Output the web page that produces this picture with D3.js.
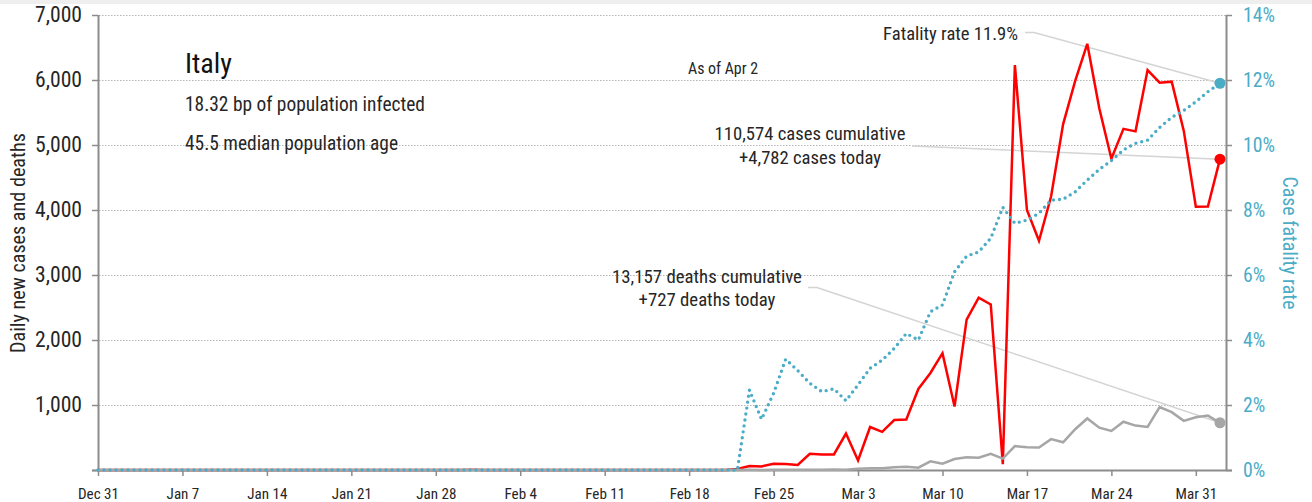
<!DOCTYPE html>
<html><head><meta charset="utf-8">
<script src="https://cdn.jsdelivr.net/npm/d3@7"></script>
<style>
html,body{margin:0;padding:0;background:#fff;}
svg{display:block;font-family:"Liberation Sans Narrow","Arial Narrow","Roboto Condensed","DejaVu Sans Condensed","Liberation Sans",sans-serif;}
</style></head>
<body>
<svg id="chart" width="1312" height="502"></svg>
<script>
// ---- data (Dec 31, 2019 .. Apr 2, 2020; one value per day) ----
const startDay = "2019-12-31";
const dailyCases = [
  0,0,0,0,0,0,0,0,0,0,0,0,0,0,0,0,0,0,0,0,0,0,0,0,0,0,0,0,0,0,0,   // Dec 31 - Jan 30
  2,0,0,0,0,0,0,1,0,0,0,0,0,0,0,0,0,0,0,0,0,0,                      // Jan 31 - Feb 21
  17,62,55,97,93,78,250,238,                                        // Feb 22 - Feb 29
  240,561,146,662,587,769,778,1247,1492,1797,977,2313,2651,2547,    // Mar 1 - Mar 14
  90,6230,4000,3526,4207,5322,5986,6557,5560,4789,5249,5210,        // Mar 15 - Mar 26
  6153,5959,5974,5217,4050,4053,4782                                // Mar 27 - Apr 2
];
const dailyDeaths = [
  0,0,0,0,0,0,0,0,0,0,0,0,0,0,0,0,0,0,0,0,0,0,0,0,0,0,0,0,0,0,0,
  0,0,0,0,0,0,0,0,0,0,0,0,0,0,0,0,0,0,0,0,0,0,
  0,2,1,4,3,2,5,4,
  8,5,18,27,28,41,49,36,133,97,168,196,189,250,
  175,368,349,345,475,427,627,793,651,601,743,683,
  662,969,889,756,812,837,727
];
const fatalityRate = [ // percent, cumulative deaths / cumulative cases
  0,0,0,0,0,0,0,0,0,0,0,0,0,0,0,0,0,0,0,0,0,0,0,0,0,0,0,0,0,0,0,
  0,0,0,0,0,0,0,0,0,0,0,0,0,0,0,0,0,0,0,0,0,0,
  0,2.46,1.56,2.36,3.41,3.06,2.67,2.41,
  2.50,2.13,2.62,3.13,3.38,3.74,4.20,4.00,4.87,5.08,6.10,6.58,6.71,7.13,
  8.08,7.59,7.69,7.90,8.30,8.33,8.56,8.92,9.25,9.52,9.85,10.05,
  10.15,10.54,10.85,11.06,11.33,11.64,11.90
];
const xTickLabels = ["Dec 31","Jan 7","Jan 14","Jan 21","Jan 28","Feb 4","Feb 11","Feb 18","Feb 25","Mar 3","Mar 10","Mar 17","Mar 24","Mar 31"];
const leftTicks = [0,1000,2000,3000,4000,5000,6000,7000];
const rightTicks = [0,2,4,6,8,10,12,14];
const countryName = "Italy";
const infoLines = ["18.32 bp of population infected","45.5 median population age"];
const asOfLabel = "As of Apr 2";
const fatalityLabel = "Fatality rate 11.9%";
const casesLabels = ["110,574 cases cumulative","+4,782 cases today"];
const deathsLabels = ["13,157 deaths cumulative","+727 deaths today"];

// ---- setup ----
const parse = d3.timeParse("%Y-%m-%d");
const t0 = parse(startDay);
const dates = dailyCases.map((_, i) => d3.timeDay.offset(t0, i));
const tickDates = xTickLabels.map((_, i) => d3.timeDay.offset(t0, i * 7));

const svg = d3.select("#chart");
const W = 1312, H = 502;
const pL = 98, pR = 1226, pT = 15, pB = 470;

const x = d3.scaleTime()
  .domain([t0, d3.timeHour.offset(dates[dates.length - 1], 12)])
  .range([pL, pR]);
const y = d3.scaleLinear().domain([0, 7000]).range([pB, pT]);
const yr = d3.scaleLinear().domain([0, 14]).range([pB, pT]);

const BLUE = "#4bacc6", RED = "#ff0000", GRAY = "#a6a6a6", AXIS = "#8c8c8c", LEAD = "#d4d4d4", TXT = "#262626";

function fit(sel, width) {
  sel.style("font-size", "100px");
  let w = 0;
  sel.each(function(){ w = Math.max(w, this.getComputedTextLength()); });
  const fs = 100 * width / w;
  sel.style("font-size", fs + "px");
  return fs;
}

svg.append("rect").attr("x",0).attr("y",0).attr("width",W).attr("height",4).attr("fill","#efefef");

// gridlines
svg.append("g").selectAll("line").data(leftTicks.filter(d => d > 0)).join("line")
  .attr("x1", pL + 1).attr("x2", pR)
  .attr("y1", d => y(d) + 0.5).attr("y2", d => y(d) + 0.5)
  .attr("stroke", "#b4b4b4").attr("stroke-width", 1).attr("stroke-dasharray", "1.5,1.5");

// axes
const axL = svg.append("g").attr("transform", `translate(${pL},0)`)
  .call(d3.axisLeft(y).tickValues(leftTicks).tickSize(6).tickPadding(10)
    .tickFormat(d => d === 0 ? "" : d3.format(",")(d)));
const axR = svg.append("g").attr("transform", `translate(${pR},0)`)
  .call(d3.axisRight(yr).tickValues(rightTicks).tickSize(6).tickPadding(11).tickFormat(d => d + "%"));
const axB = svg.append("g").attr("transform", `translate(0,${pB})`)
  .call(d3.axisBottom(x).tickValues(tickDates).tickSize(6).tickPadding(12).tickFormat((d, i) => xTickLabels[i]));
[axL, axR, axB].forEach(g => {
  g.attr("font-family", null).attr("font-size", null);
  g.select(".domain").attr("stroke", AXIS).attr("stroke-width", 2);
  g.selectAll(".tick line").attr("stroke", AXIS).attr("stroke-width", 1.5);
});
axB.select(".domain").attr("d", `M${pL - 6},0.5H${pR + 6}`);
axL.select(".domain").attr("d", `M0.5,${pT}V${pB}`);
axR.select(".domain").attr("d", `M0.5,${pT}V${pB}`);
axL.selectAll("text").attr("fill", TXT);
axB.selectAll("text").attr("fill", TXT);
axR.selectAll("text").attr("fill", BLUE);
const fsL = fit(axL.selectAll("text").filter(d => d === 7000), 47);
axL.selectAll("text").style("font-size", fsL + "px");
const fsR = fit(axR.selectAll("text").filter(d => d === 14), 32);
axR.selectAll("text").style("font-size", fsR + "px");
const fsB = fit(axB.selectAll("text").filter((d, i) => i === 0), 41);
axB.selectAll("text").style("font-size", fsB + "px");

// axis titles
const yTitle = svg.append("text").attr("text-anchor", "middle")
  .attr("transform", "translate(25,243) rotate(-90)").attr("fill", TXT)
  .text("Daily new cases and deaths");
fit(yTitle, 220);
const yrTitle = svg.append("text").attr("text-anchor", "middle")
  .attr("transform", "translate(1283,243) rotate(90)").attr("fill", BLUE)
  .text("Case fatality rate");
fit(yrTitle, 133);

// leader lines
const last = dates.length - 1;
const xe = x(dates[last]);
const leaders = svg.append("g").attr("fill", "none").attr("stroke", LEAD).attr("stroke-width", 1.5);
leaders.append("path").attr("d", `M1025,32.5H1034L${xe},${yr(fatalityRate[last])}`);
leaders.append("path").attr("d", `M912,146L${xe},${y(dailyCases[last])}`);
leaders.append("path").attr("d", `M808,287.5H817L${xe},${y(dailyDeaths[last])}`);

// series
const lineL = vals => d3.line().x((d, i) => x(dates[i])).y(d => y(d))(vals);
svg.append("path").attr("d", lineL(dailyCases)).attr("fill", "none")
  .attr("stroke", RED).attr("stroke-width", 2.5).attr("stroke-linejoin", "miter");
svg.append("path").attr("d", lineL(dailyDeaths)).attr("fill", "none")
  .attr("stroke", GRAY).attr("stroke-width", 2.5);
svg.append("path").attr("d", d3.line().x((d, i) => x(dates[i])).y(d => yr(d))(fatalityRate))
  .attr("fill", "none").attr("stroke", BLUE).attr("stroke-width", 3.4)
  .attr("stroke-linecap", "round").attr("stroke-dasharray", "0,6");

// end markers
svg.append("circle").attr("cx", xe).attr("cy", yr(fatalityRate[last])).attr("r", 5.5).attr("fill", BLUE);
svg.append("circle").attr("cx", xe).attr("cy", y(dailyCases[last])).attr("r", 5.5).attr("fill", RED);
svg.append("circle").attr("cx", xe).attr("cy", y(dailyDeaths[last])).attr("r", 5.5).attr("fill", GRAY);

// texts
const t1 = svg.append("text").attr("x", 185).attr("y", 73).attr("fill", "#111").text(countryName);
fit(t1, 47);
const info = svg.append("g").selectAll("text").data(infoLines).join("text")
  .attr("x", 185).attr("y", (d, i) => [111, 150][i]).attr("fill", TXT).text(d => d);
const fsI = fit(info.filter((d, i) => i === 0), 240);
info.style("font-size", fsI + "px");
const asof = svg.append("text").attr("x", 688).attr("y", 74).attr("fill", TXT).text(asOfLabel);
fit(asof, 70);
const fl = svg.append("text").attr("x", 1018).attr("y", 40).attr("text-anchor", "end").attr("fill", TXT).text(fatalityLabel);
fit(fl, 135);
const cl = svg.append("g").selectAll("text").data(casesLabels).join("text")
  .attr("x", 810).attr("y", (d, i) => [140, 164][i]).attr("text-anchor", "middle").attr("fill", TXT).text(d => d);
const cfs = fit(cl.filter((d, i) => i === 0), 191);
cl.style("font-size", cfs + "px");
const dl = svg.append("g").selectAll("text").data(deathsLabels).join("text")
  .attr("x", 707).attr("y", (d, i) => [283, 306][i]).attr("text-anchor", "middle").attr("fill", TXT).text(d => d);
const dfs = fit(dl.filter((d, i) => i === 0), 190);
dl.style("font-size", dfs + "px");
</script>
</body></html>
